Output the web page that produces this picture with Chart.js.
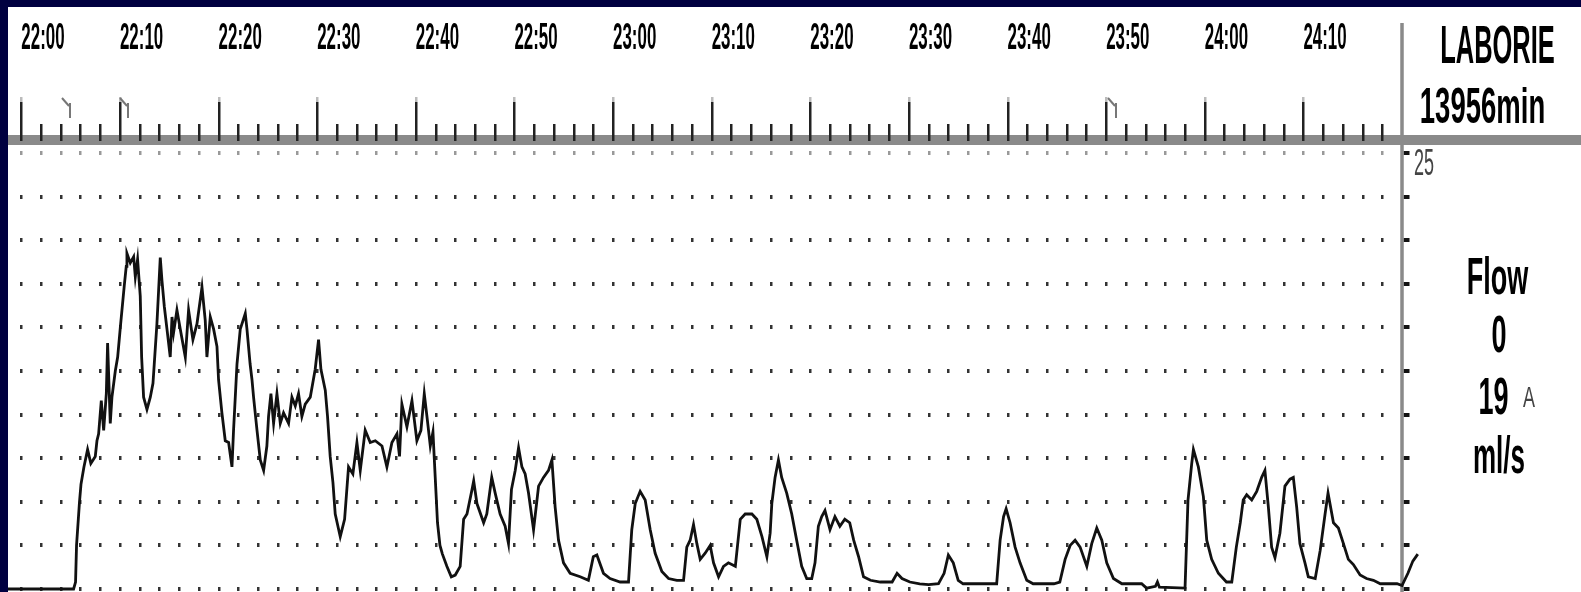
<!DOCTYPE html>
<html>
<head>
<meta charset="utf-8">
<title>Flow trace</title>
<script src="https://cdn.jsdelivr.net/npm/chart.js@4.4.1/dist/chart.umd.min.js"></script>
<style>
  html, body { margin: 0; padding: 0; background: #000040; overflow: hidden; }
  #wrap { position: absolute; left: 8px; top: 7px; width: 1573px; height: 585px; background: #fff; }
  canvas { display: block; }
</style>
</head>
<body>
<div id="wrap"><canvas id="flowChart" width="1573" height="585"></canvas></div>
<script>
// Minutes after 22:00 and flow (ml/s)
const minutes = [
  -1.4, 5.3, 5.5, 5.6, 5.9, 6.05, 6.35, 6.72, 7.05, 7.5, 7.67, 7.84, 8.11, 8.35, 8.62, 8.75,
  9.02, 9.19, 9.53, 9.77, 10.04, 10.44, 10.64, 10.71, 11.05, 11.39, 11.56, 11.79, 12.06, 12.2,
  12.4, 12.74, 13.08, 13.35, 13.48, 13.75, 13.92, 14.09, 14.26, 14.5, 14.77, 15.1, 15.28, 15.44,
  15.78, 16.12, 16.63, 16.96, 17.4, 17.81, 18.32, 18.65, 18.82, 19.16, 19.5, 19.84, 20.0, 20.34,
  20.68, 21.02, 21.36, 21.52, 21.87, 22.2, 22.71, 22.88, 23.2, 23.39, 23.55, 23.9, 24.23, 24.57,
  24.9, 25.07, 25.31, 25.58, 25.92, 26.26, 26.59, 27.1, 27.44, 27.78, 28.11, 28.45, 28.79, 29.3,
  29.8, 30.14, 30.38, 30.82, 31.05, 31.32, 31.6, 31.83, 32.34, 32.78, 33.18, 33.62, 34.03, 34.37,
  34.87, 35.38, 35.89, 36.57, 37.07, 37.58, 38.09, 38.35, 38.59, 39.1, 39.61, 40.11, 40.52, 40.86,
  41.13, 41.47, 41.74, 41.97, 42.2, 42.45, 42.7, 43.15, 43.6, 44.0, 44.5, 44.85, 45.19, 45.7,
  45.87, 46.2, 46.88, 47.2, 47.7, 48.05, 48.55, 49.06, 49.4, 49.7, 50.08, 50.42, 50.76, 51.09,
  51.43, 51.94, 52.45, 52.95, 53.46, 53.8, 54.13, 54.47, 54.98, 55.65, 56.67, 57.5, 58.0, 58.36,
  59.03, 59.7, 60.72, 61.57, 61.9, 62.25, 62.75, 63.26, 63.77, 64.27, 64.95, 65.63, 66.47, 67.15,
  67.48, 67.82, 68.16, 68.5, 68.84, 69.34, 69.85, 70.19, 70.7, 71.2, 71.7, 72.4, 72.9, 73.4,
  74.08, 74.58, 75.1, 75.6, 75.93, 76.1, 76.43, 76.77, 77.1, 77.61, 78.12, 78.62, 79.13, 79.64,
  80.15, 80.48, 80.82, 81.16, 81.49, 82.0, 82.5, 83.0, 83.5, 84.0, 84.4, 84.9, 85.4, 86.1,
  87.1, 88.3, 88.8, 89.3, 90.1, 91.1, 92.0, 93.0, 93.57, 94.0, 94.5, 95.0, 95.5, 97.6,
  98.9, 99.25, 99.6, 99.86, 100.26, 100.77, 101.27, 101.95, 102.6, 104.7, 105.3, 105.84, 106.35, 106.85,
  107.36, 108.04, 108.54, 109.05, 109.56, 110.06, 110.74, 111.6, 113.6, 114.1, 115.0, 115.2, 115.4, 118.0,
  118.3, 118.68, 118.85, 119.35, 119.86, 120.2, 120.7, 121.38, 122.2, 122.74, 123.2, 123.6, 123.9, 124.25,
  124.76, 125.27, 125.77, 126.1, 126.45, 126.78, 127.12, 127.62, 128.13, 128.64, 128.98, 129.32, 129.65, 130.16,
  130.5, 131.2, 131.7, 132.2, 132.5, 133.05, 133.55, 134.06, 134.56, 135.07, 135.75, 136.4, 137.1, 137.8,
  138.8, 139.5, 140.0, 140.6, 141.1, 141.6
];
const flow = [
  0, 0, 0.4, 2.5, 5.0, 6.0, 7.0, 8.0, 7.2, 7.6, 8.5, 8.9, 10.8, 9.1, 11.2, 14.1,
  9.5, 11.0, 12.5, 13.3, 15.0, 17.4, 18.5, 19.25, 18.7, 19.05, 17.9, 18.9, 16.8, 13.3,
  11.0, 10.3, 11.0, 11.8, 12.9, 15.2, 17.1, 19.0, 17.7, 16.2, 14.9, 13.3, 15.6, 14.7,
  16.0, 14.9, 13.3, 16.0, 14.3, 15.2, 17.3, 15.4, 13.3, 15.6, 14.9, 13.9, 12.0, 10.1,
  8.5, 8.4, 7.0, 9.1, 12.9, 14.9, 15.8, 14.9, 12.9, 12.0, 11.0, 9.1, 7.4, 6.8,
  8.2, 9.9, 11.2, 9.5, 11.2, 9.5, 10.1, 9.5, 11.0, 10.5, 11.2, 9.9, 10.6, 11.0,
  12.6, 14.3, 12.6, 11.4, 9.9, 7.6, 6.1, 4.3, 3.0, 4.0, 7.0, 6.6, 8.4, 6.8,
  9.1, 8.4, 8.5, 8.2, 7.0, 8.4, 8.9, 7.6, 10.6, 9.3, 10.8, 8.5, 9.1, 11.2,
  9.9, 8.2, 9.0, 6.4, 3.8, 2.5, 2.0, 1.3, 0.7, 0.8, 1.3, 4.0, 4.3, 5.7,
  6.2, 4.9, 3.8, 4.3, 6.4, 5.5, 4.3, 3.6, 2.6, 5.7, 6.8, 8.1, 7.0, 6.6,
  5.5, 3.4, 5.9, 6.4, 6.8, 7.4, 4.7, 2.8, 1.5, 0.9, 0.7, 0.5, 1.85, 1.95,
  0.9, 0.6, 0.4, 0.4, 3.4, 4.9, 5.6, 5.1, 3.4, 2.05, 1.0, 0.6, 0.5, 0.5,
  2.4, 2.8, 3.7, 2.6, 1.7, 2.05, 2.5, 1.5, 0.7, 1.3, 1.5, 1.3, 4.0, 4.3,
  4.3, 4.0, 3.0, 1.85, 3.2, 4.9, 6.4, 7.4, 6.4, 5.5, 4.3, 2.8, 1.3, 0.6,
  0.6, 1.5, 3.6, 4.15, 4.5, 3.4, 4.15, 3.6, 4.0, 3.8, 2.8, 1.85, 0.7, 0.5,
  0.4, 0.4, 0.9, 0.6, 0.4, 0.3, 0.25, 0.3, 0.9, 1.95, 1.5, 0.5, 0.3, 0.3,
  0.3, 2.8, 4.15, 4.6, 3.8, 2.4, 1.5, 0.5, 0.3, 0.3, 0.4, 1.7, 2.5, 2.8,
  2.4, 1.3, 2.6, 3.5, 2.8, 1.5, 0.6, 0.3, 0.3, 0.05, 0.15, 0.4, 0.1, 0.05,
  5.1, 7.2, 8.0, 7.0, 5.3, 2.8, 1.7, 0.9, 0.4, 0.4, 2.4, 3.8, 5.1, 5.4,
  5.1, 5.6, 6.4, 6.8, 4.7, 2.4, 1.8, 3.2, 5.9, 6.3, 6.4, 4.7, 2.6, 1.5,
  0.7, 0.6, 2.2, 4.3, 5.5, 3.8, 3.5, 2.6, 1.7, 1.4, 0.8, 0.6, 0.5, 0.3,
  0.3, 0.3, 0.2, 0.9, 1.6, 2.0
];
// Time axis labels, one per 10 minutes from 22:00
const timeLabels = ['22:00', '22:10', '22:20', '22:30', '22:40', '22:50', '23:00',
                    '23:10', '23:20', '23:30', '23:40', '23:50', '24:00', '24:10'];
// Event marks on the time axis (minutes after 22:00)
const eventMinutes = [4.9, 10.85, 110.95];

const flowTop = 25, flowStep = 2.5;
const minorStep = 2, majorStep = 10, endMinute = 140;

// draw text squeezed horizontally (the recorder uses a narrow font)
function squeeze(c, text, x, y, font, sx, align, color) {
    c.save();
    c.font = font;
    c.fillStyle = color;
    c.textAlign = align;
    c.textBaseline = 'alphabetic';
    c.translate(x, y);
    c.scale(sx, 1);
    c.fillText(text, 0, 0);
    c.restore();
}

const tracePanel = {
    id: 'tracePanel',
    beforeDatasetsDraw(chart) {
        const c = chart.ctx, xs = chart.scales.x, ys = chart.scales.y;
        const xEnd = xs.getPixelForValue(endMinute);
        c.save();
        // dotted grid
        for (let v = 0; v <= flowTop + 0.01; v += flowStep) {
            const py = ys.getPixelForValue(v);
            c.fillStyle = v >= flowTop ? '#999' : '#333';
            for (let m = 0; m < endMinute; m += minorStep) {
                c.fillRect(Math.round(xs.getPixelForValue(m)) - 1, Math.round(py) - 2, 2.5, 4);
            }
            c.fillStyle = '#111';
            c.fillRect(xEnd + 1.5, Math.round(py) - 2, 6, 4);
        }
        // end-of-scale border
        c.fillStyle = '#8a8a8a';
        c.fillRect(xEnd - 1.75, 16, 3.5, chart.height - 16);
        c.restore();
    },
    afterDraw(chart) {
        const c = chart.ctx, xs = chart.scales.x;
        c.save();
        // grey band under the time ticks
        c.fillStyle = '#8a8a8a';
        c.fillRect(0, 128, chart.width, 10);
        // ticks
        for (let m = 0; m < endMinute; m += minorStep) {
            const px = Math.round(xs.getPixelForValue(m));
            if (m % majorStep === 0) {
                c.fillStyle = '#bbb';
                c.fillRect(px - 1, 90, 2.5, 5);
                c.fillStyle = '#222';
                c.fillRect(px - 1, 95, 2.5, 39);
            } else {
                c.fillStyle = '#222';
                c.fillRect(px - 1, 117, 2.5, 17);
            }
        }
        // labels
        timeLabels.forEach((lab, i) => {
            const px = xs.getPixelForValue(i * majorStep);
            squeeze(c, lab, px, 42, 'bold 36px "Liberation Sans"', 0.47, 'left', '#000');
        });
        // event marks
        c.strokeStyle = '#777';
        c.lineWidth = 2;
        eventMinutes.forEach(m => {
            const px = Math.round(xs.getPixelForValue(m));
            c.beginPath();
            c.moveTo(px - 8, 91);
            c.lineTo(px - 1, 99);
            c.moveTo(px, 96);
            c.lineTo(px, 111);
            c.stroke();
        });
        // right-hand panel
        squeeze(c, 'LABORIE', 1489.5, 56, 'bold 53px "Liberation Sans"', 0.48, 'center', '#000');
        squeeze(c, '13956min', 1474.5, 116, 'bold 50px "Liberation Sans"', 0.55, 'center', '#000');
        squeeze(c, '25', 1406, 168, '36px "Liberation Sans"', 0.5, 'left', '#444');
        squeeze(c, 'Flow', 1489.5, 287, 'bold 52px "Liberation Sans"', 0.52, 'center', '#000');
        squeeze(c, '0', 1491, 345, 'bold 52px "Liberation Sans"', 0.52, 'center', '#000');
        squeeze(c, '19', 1485.5, 407, 'bold 52px "Liberation Sans"', 0.52, 'center', '#000');
        squeeze(c, 'A', 1521, 400, '30px "Liberation Sans"', 0.6, 'center', '#444');
        squeeze(c, 'ml/s', 1491, 466, 'bold 52px "Liberation Sans"', 0.5, 'center', '#000');
        c.restore();
    }
};

const ctx = document.getElementById('flowChart').getContext('2d');
new Chart(ctx, {
    type: 'line',
    data: {
        datasets: [{
            data: minutes.map((m, i) => ({ x: m, y: flow[i] })),
            borderColor: '#111',
            borderWidth: 2.8,
            pointRadius: 0,
            tension: 0,
            fill: false
        }]
    },
    options: {
        responsive: false,
        animation: false,
        devicePixelRatio: 1,
        layout: { padding: { top: 138, left: 0, right: 0, bottom: 0 } },
        plugins: { legend: { display: false }, tooltip: { enabled: false } },
        scales: {
            x: { type: 'linear', min: -1.35, max: 158.15, display: false },
            y: { min: -0.172, max: 25.46, display: false }
        }
    },
    plugins: [tracePanel]
});
</script>
</body>
</html>
